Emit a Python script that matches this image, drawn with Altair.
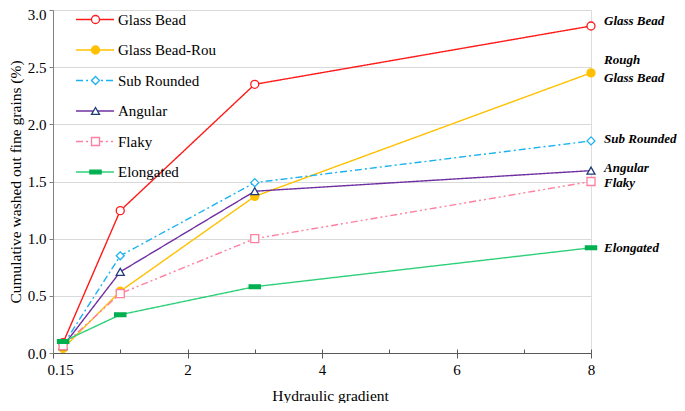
import altair as alt
import pandas as pd

# ---------------- data ----------------
x_vals = [0.15, 1, 3, 8]
series_names = ["Glass Bead", "Glass Bead-Rou", "Sub Rounded", "Angular", "Flaky", "Elongated"]
glass_bead = [0.09, 1.245, 2.35, 2.86]
glass_bead_rou = [0.04, 0.54, 1.37, 2.45]
sub_rounded = [0.07, 0.85, 1.49, 1.855]
angular = [0.06, 0.71, 1.415, 1.595]
flaky = [0.065, 0.52, 1.0, 1.50]
elongated = [0.10, 0.335, 0.58, 0.92]
series_values = [glass_bead, glass_bead_rou, sub_rounded, angular, flaky, elongated]

label_texts = ["Glass Bead", "Rough\nGlass Bead", "Sub Rounded", "\u00a0Angular", "Flaky", "Elongated"]
label_y = [2.90, 2.56, 1.87, 1.615, 1.49, 0.92]

x_major = [0, 2, 4, 6, 8]
x_minor = [1, 2, 3, 4, 5, 6, 7, 8]
y_ticks = [0, 0.5, 1.0, 1.5, 2.0, 2.5, 3.0]

# ---------------- styles ----------------
line_colors = ["#FF1A1A", "#FFC000", "#1AB2F0", "#7030A0", "#FF7FA0", "#2ED07A"]
marker_strokes = ["#FF1A1A", "#FFC000", "#1AB2F0", "#1F3A7A", "#FF7FA0", "#00B050"]
marker_fills = ["#FFFFFF", "#FFC000", "#FFFFFF", "#FFFFFF", "#FFFFFF", "#00B050"]
dash_patterns = [[1, 0], [1, 0], [7, 3, 2, 3], [1, 0], [7, 3, 2, 3, 2, 3], [1, 0]]
marker_shapes = ["circle", "circle", "diamond", "triangle-up", "square",
                 "M-1.4,-0.45H1.4V0.45H-1.4Z"]
FONT = "Liberation Serif, Times New Roman, serif"

marker_keys = [n + " marker" for n in series_names]

rows = []
for name, key, vals in zip(series_names, marker_keys, series_values):
    for xv, yv in zip(x_vals, vals):
        rows.append({"series": name, "marker": key, "x": xv, "y": yv})
df = pd.DataFrame(rows)
labels_df = pd.DataFrame({"text": label_texts, "x": [x_vals[-1]] * len(label_texts), "y": label_y})

xscale = alt.Scale(domain=[0, 8], nice=False, zero=False)
yscale = alt.Scale(domain=[0, 3], nice=False)

x_axis = alt.Axis(
    values=x_major, format="d", title="Hydraulic gradient", grid=False,
    labelExpr="datum.value == 0 ? '0.15' : datum.label",
    labelOffset={"condition": {"test": "datum.value == 0", "value": 7}, "value": 0},
    labelFlush=False, labelOverlap=False,
    tickSize=5, tickColor="#595959", domainColor="#595959",
    labelPadding=4, titlePadding=11, titleX=277,
)
y_axis = alt.Axis(
    values=y_ticks, format=".1f", title="Cumulative washed out fine grains (%)",
    grid=True, gridColor="#D9D9D9", gridWidth=1,
    labelOffset={"condition": {"test": "datum.value == 3", "value": 4.5}, "value": 0},
    labelFlush=False, labelOverlap=False,
    tickSize=4, tickColor="#808080", domainColor="#808080",
    labelPadding=3, titlePadding=4,
)

leg_line = alt.Legend(
    title=None, orient="none", legendX=34.5, legendY=2, padding=0,
    symbolType="M-4,0H4", symbolSize=90, symbolStrokeWidth=1.5,
    labelFont=FONT, labelFontSize=15, labelColor="#000000", labelOffset=15.5,
    rowPadding=14.5, values=series_names,
)
leg_marker = alt.Legend(
    title=None, orient="none", legendX=35, legendY=2, padding=0,
    symbolSize=64, symbolStrokeWidth=1.3,
    labelFont=FONT, labelFontSize=15, labelOpacity=0, labelOffset=19,
    labelExpr="''",
    rowPadding=14.5, values=marker_keys,
)

lines = alt.Chart(df).mark_line(strokeWidth=1.4).encode(
    x=alt.X("x:Q", scale=xscale, axis=x_axis),
    y=alt.Y("y:Q", scale=yscale, axis=y_axis),
    color=alt.Color("series:N", scale=alt.Scale(domain=series_names, range=line_colors), legend=leg_line),
    strokeDash=alt.StrokeDash("series:N", scale=alt.Scale(domain=series_names, range=dash_patterns), legend=leg_line),
)

points = alt.Chart(df).mark_point(size=64, strokeWidth=1.3, opacity=1).encode(
    x=alt.X("x:Q", scale=xscale, axis=x_axis),
    y=alt.Y("y:Q", scale=yscale, axis=y_axis),
    shape=alt.Shape("marker:N", scale=alt.Scale(domain=marker_keys, range=marker_shapes), legend=leg_marker),
    stroke=alt.Stroke("marker:N", scale=alt.Scale(domain=marker_keys, range=marker_strokes), legend=leg_marker),
    fill=alt.Fill("marker:N", scale=alt.Scale(domain=marker_keys, range=marker_fills), legend=leg_marker),
)

end_labels = alt.Chart(labels_df).mark_text(
    align="left", baseline="middle", dx=13, font=FONT, fontSize=13,
    fontWeight="bold", fontStyle="italic", color="#000000", lineBreak="\n", lineHeight=18,
).encode(
    x=alt.X("x:Q", scale=xscale, axis=x_axis),
    y=alt.Y("y:Q", scale=yscale, axis=y_axis),
    text="text:N",
)

main = alt.layer(lines, points, end_labels)

# short inward ticks along the bottom (bottom axis nudged up into the plot)
inner_ticks = alt.Chart(df).mark_point(opacity=0).encode(
    x=alt.X("x:Q", scale=xscale, axis=alt.Axis(
        orient="bottom", offset=-4, values=x_minor, labels=False, domain=False,
        grid=False, title=None, tickSize=4, tickColor="#595959")),
    y=alt.Y("y:Q", scale=yscale, axis=y_axis),
)

chart = alt.layer(main, inner_ticks).resolve_scale(x="independent").properties(
    width=538, height=343,
    autosize=alt.AutoSizeParams(type="none"),
    padding={"left": 45, "top": 2, "right": 86, "bottom": 50},
).configure_view(stroke=None).configure(
    background="#FFFFFF", font=FONT
).configure_axis(
    labelFont=FONT, labelFontSize=15, labelColor="#000000",
    titleFont=FONT, titleFontSize=15.5, titleFontWeight="normal", titleColor="#000000",
).configure_text(font=FONT).configure_legend(labelFont=FONT)

chart.save("out.html", embed_options={"renderer": "svg", "actions": False})
